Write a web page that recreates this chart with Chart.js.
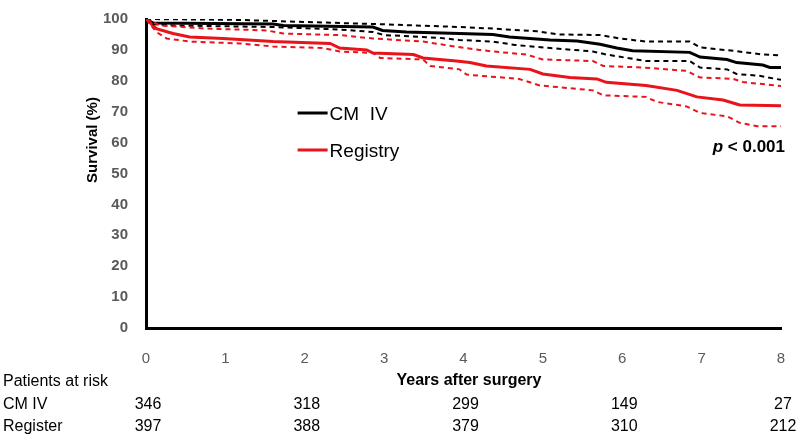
<!DOCTYPE html>
<html>
<head>
<meta charset="utf-8">
<script src="https://cdn.jsdelivr.net/npm/chart.js@4.4.0/dist/chart.umd.min.js"></script>
<style>
  html, body { margin: 0; padding: 0; background: #fff; }
</style>
</head>
<body>
<canvas id="kmChart" width="800" height="440"></canvas>
<script>
// Kaplan-Meier estimates (years, survival %)
var cmYears = [0, 0.09, 1.6, 1.73, 2.86, 2.98, 3.28, 3.95, 4.37, 4.58, 5.09, 5.43, 5.72, 5.93, 6.13, 6.85, 6.98, 7.32, 7.44, 7.77, 7.86, 8];
var cmSurv  = [100, 98.7, 98.4, 97.9, 97.4, 96.3, 95.8, 95.3, 95.0, 94.2, 93.2, 92.9, 91.8, 90.6, 89.7, 89.2, 87.7, 86.9, 85.9, 85.1, 84.3, 84.3];

var cmUpYears = [0, 1.18, 2.03, 2.86, 3.95, 4.37, 4.93, 5.2, 5.72, 5.97, 6.3, 6.85, 6.98, 7.4, 7.77, 8];
var cmUpper   = [100, 99.7, 99.0, 98.4, 97.4, 96.9, 96.0, 95.0, 94.8, 93.7, 92.7, 92.7, 90.8, 89.7, 88.5, 88.2];

var cmLoYears = [0, 0.05, 0.34, 1.6, 2.44, 2.86, 3.0, 3.7, 3.95, 4.37, 4.65, 5.09, 5.63, 5.8, 6.06, 6.3, 6.85, 6.98, 7.32, 7.44, 7.73, 8];
var cmLower   = [100, 98.4, 97.9, 97.4, 96.6, 95.8, 94.8, 93.9, 93.2, 92.7, 91.6, 90.6, 89.5, 88.5, 87.4, 86.4, 86.4, 84.3, 83.7, 82.2, 81.6, 80.3];

var regYears = [0, 0.13, 0.34, 0.55, 0.97, 1.6, 2.32, 2.44, 2.78, 2.86, 3.37, 3.49, 3.91, 4.08, 4.29, 4.84, 5.0, 5.34, 5.68, 5.8, 6.3, 6.69, 6.94, 7.27, 7.48, 8];
var regSurv  = [100, 96.9, 95.3, 94.2, 93.7, 92.7, 92.1, 90.6, 90.0, 89.0, 88.5, 87.4, 86.4, 85.9, 84.8, 83.7, 82.2, 81.1, 80.6, 79.5, 78.5, 76.9, 74.8, 73.8, 72.2, 71.9];

var regUpYears = [0, 0.18, 0.76, 1.52, 1.73, 2.44, 2.86, 3.49, 3.91, 4.2, 4.37, 4.79, 5.0, 5.63, 5.76, 6.27, 6.81, 6.98, 7.4, 7.52, 8];
var regUpper   = [100, 97.9, 96.9, 96.3, 95.3, 94.8, 93.7, 92.7, 91.0, 90.0, 89.5, 88.5, 86.9, 86.4, 84.8, 84.3, 83.2, 81.1, 80.6, 79.6, 78.3];

var regLoYears = [0, 0.13, 0.26, 0.55, 1.18, 1.6, 2.23, 2.44, 2.86, 2.95, 3.49, 3.58, 3.95, 4.04, 4.7, 4.96, 5.63, 5.76, 6.3, 6.43, 6.81, 6.98, 7.32, 7.48, 7.7, 8];
var regLower   = [100, 95.8, 93.7, 92.7, 92.1, 91.1, 90.6, 89.5, 89.0, 87.4, 86.9, 84.8, 83.7, 82.0, 80.6, 78.5, 76.9, 75.3, 74.8, 73.2, 71.7, 69.6, 68.5, 66.4, 65.3, 65.3];

// patients at risk table
var riskYears = [0, 2, 4, 6, 8];
var riskCM    = [346, 318, 299, 149, 27];
var riskReg   = [397, 388, 379, 310, 212];

var RED = '#e8131b';
var FONT = "'Liberation Sans', Arial, sans-serif";

function pts(xs, ys) {
  return xs.map(function (x, i) { return { x: x, y: ys[i] }; });
}

var extras = {
  id: 'extras',
  afterDraw: function (chart) {
    var c = chart.ctx, xs = chart.scales.x, ys = chart.scales.y;
    c.save();
    c.fillStyle = '#000';
    c.textBaseline = 'middle';

    // axis titles
    c.font = 'bold 15px ' + FONT;
    c.textAlign = 'center';
    c.save();
    c.translate(93, 140);
    c.rotate(-Math.PI / 2);
    c.fillText('Survival (%)', 0, 0);
    c.restore();
    c.font = 'bold 16px ' + FONT;
    c.fillText('Years after surgery', 469, 381);

    // legend
    var lx = xs.getPixelForValue(1.91);
    var rows = [['CM  IV', '#000', 113], ['Registry', RED, 150]];
    rows.forEach(function (r) {
      c.strokeStyle = r[1];
      c.lineWidth = 3;
      c.beginPath();
      c.moveTo(lx, r[2]);
      c.lineTo(lx + 30, r[2]);
      c.stroke();
      c.font = '19px ' + FONT;
      c.textAlign = 'left';
      c.fillStyle = '#000';
      c.fillText(r[0], lx + 32, r[2] + 2);
    });

    // p value
    c.font = 'bold 17px ' + FONT;
    c.textAlign = 'right';
    var rest = ' < 0.001';
    var restW = c.measureText(rest).width;
    c.fillText(rest, 785, 147);
    c.font = 'italic bold 17px ' + FONT;
    c.fillText('p', 785 - restW, 147);

    // patients at risk
    c.font = '16px ' + FONT;
    c.textAlign = 'left';
    c.fillText('Patients at risk', 3, 382);
    c.fillText('CM IV', 3, 405);
    c.fillText('Register', 3, 427);
    c.textAlign = 'center';
    riskYears.forEach(function (yr, i) {
      var px = xs.getPixelForValue(yr) + 2;
      c.fillText(String(riskCM[i]), px, 405);
      c.fillText(String(riskReg[i]), px, 427);
    });
    c.restore();
  }
};

function dashed(label, data, color) {
  return { label: label, data: data, borderColor: color, borderWidth: 2, borderDash: [5, 4],
           pointRadius: 0, fill: false, tension: 0 };
}
function solid(label, data, color) {
  return { label: label, data: data, borderColor: color, borderWidth: 3,
           pointRadius: 0, fill: false, tension: 0 };
}

new Chart(document.getElementById('kmChart').getContext('2d'), {
  type: 'line',
  data: {
    datasets: [
      dashed('Registry lower', pts(regLoYears, regLower), RED),
      dashed('Registry upper', pts(regUpYears, regUpper), RED),
      dashed('CM IV lower', pts(cmLoYears, cmLower), '#000'),
      dashed('CM IV upper', pts(cmUpYears, cmUpper), '#000'),
      solid('Registry', pts(regYears, regSurv), RED),
      solid('CM IV', pts(cmYears, cmSurv), '#000')
    ]
  },
  options: {
    responsive: false,
    animation: false,
    layout: { padding: { left: 0, right: 19, top: 12, bottom: 0 } },
    plugins: { legend: { display: false }, tooltip: { enabled: false } },
    scales: {
      x: {
        type: 'linear', min: 0, max: 8,
        grid: { display: false },
        border: { color: '#000', width: 3 },
        ticks: { stepSize: 1, color: '#595959', padding: 14, font: { family: FONT, size: 15 } },
        afterFit: function (s) { s.height = 112; }
      },
      y: {
        min: 0, max: 100,
        grid: { display: false },
        border: { color: '#000', width: 3 },
        ticks: { stepSize: 10, color: '#595959', padding: 10, font: { family: FONT, size: 15, weight: 'bold' } },
        afterFit: function (s) { s.width = 146; }
      }
    }
  },
  plugins: [extras]
});
</script>
</body>
</html>
